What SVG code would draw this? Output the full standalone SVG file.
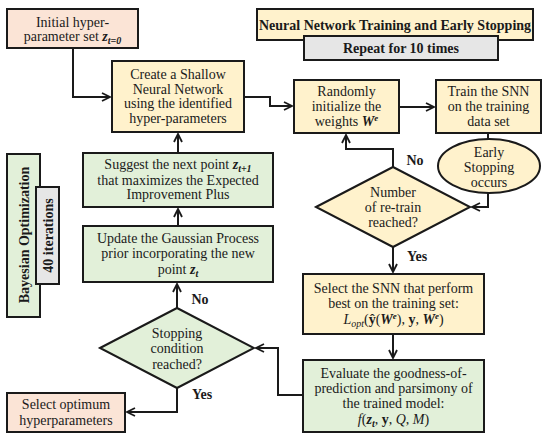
<svg xmlns="http://www.w3.org/2000/svg" width="550" height="437" viewBox="0 0 550 437">
<defs>
<style>
.t{font-family:"Liberation Serif","Times New Roman",serif;font-size:14px;fill:#1a1a1a;text-anchor:middle}
.b{font-weight:bold}
.bi{font-weight:bold;font-style:italic}
.i{font-style:italic}
.box{stroke:#1a1a1a;stroke-width:2}
.peach{fill:#FBE4D6}
.yel{fill:#FFF2CC}
.grn{fill:#E2F0D9}
.gry{fill:#E6E6E6}
.c{fill:none;stroke:#1a1a1a;stroke-width:2}
.lbl{font-family:"Liberation Serif","Times New Roman",serif;font-size:14px;font-weight:bold;fill:#1a1a1a;text-anchor:middle}
</style>
<marker id="ah" viewBox="0 0 10 10" refX="9" refY="5" markerWidth="10" markerHeight="10" markerUnits="userSpaceOnUse" orient="auto">
<path d="M1,1 L9,5 L1,9" fill="none" stroke="#1a1a1a" stroke-width="1.8"/>
</marker>
</defs>
<rect width="550" height="437" fill="#fff"/>

<g id="connectors">
<polyline class="c" points="73,48 73,97 110,97" marker-end="url(#ah)"/>
<line class="c" x1="178" y1="153" x2="178" y2="134" marker-end="url(#ah)"/>
<line class="c" x1="178" y1="226" x2="178" y2="209" marker-end="url(#ah)"/>
<line class="c" x1="177" y1="308" x2="177" y2="284" marker-end="url(#ah)"/>
<polyline class="c" points="177,388 177,412 127,412" marker-end="url(#ah)"/>
<polyline class="c" points="244,97 270,97 270,106 292,106" marker-end="url(#ah)"/>
<line class="c" x1="399" y1="107" x2="434" y2="107" marker-end="url(#ah)"/>
<line class="c" x1="488" y1="133" x2="488" y2="139"/>
<polyline class="c" points="488,193 488,207 472,207" marker-end="url(#ah)"/>
<polyline class="c" points="393,167 393,149 346,149 346,135" marker-end="url(#ah)"/>
<line class="c" x1="393" y1="247" x2="393" y2="272" marker-end="url(#ah)"/>
<line class="c" x1="393" y1="334" x2="393" y2="358" marker-end="url(#ah)"/>
<polyline class="c" points="303,395 278,395 278,348 256,348" marker-end="url(#ah)"/>
<text class="lbl" x="415" y="165">No</text>
<text class="lbl" x="417" y="261">Yes</text>
<text class="lbl" x="200" y="304">No</text>
<text class="lbl" x="202" y="399">Yes</text>
</g>

<g id="n_init">
<rect class="box peach" x="7" y="9" width="131" height="39"/>
<text class="t" x="72.5" y="27">Initial hyper-</text>
<text class="t" x="72.5" y="41">parameter set <tspan class="bi">z</tspan><tspan class="bi" font-size="10" dy="3">t=0</tspan></text>
</g>

<g id="n_create">
<rect class="box yel" x="112" y="61" width="132" height="71"/>
<text class="t" x="178" y="79">Create a Shallow</text>
<text class="t" x="178" y="94">Neural Network</text>
<text class="t" x="178" y="108">using the identified</text>
<text class="t" x="178" y="123">hyper-parameters</text>
</g>

<g id="n_suggest">
<rect class="box grn" x="83" y="153" width="190" height="54"/>
<text class="t" x="178" y="169">Suggest the next point <tspan class="bi">z</tspan><tspan class="bi" font-size="10" dy="3">t+1</tspan></text>
<text class="t" x="178" y="185">that maximizes the Expected</text>
<text class="t" x="178" y="199">Improvement Plus</text>
</g>

<g id="n_update">
<rect class="box grn" x="83" y="226" width="190" height="56"/>
<text class="t" x="178" y="243">Update the Gaussian Process</text>
<text class="t" x="178" y="258">prior incorporating the new</text>
<text class="t" x="178" y="274">point <tspan class="bi">z</tspan><tspan class="bi" font-size="10" dy="3">t</tspan></text>
</g>

<g id="n_stop">
<polygon class="box grn" points="100,348 177,308 254,348 177,388"/>
<text class="t" x="177" y="338">Stopping</text>
<text class="t" x="177" y="353">condition</text>
<text class="t" x="177" y="369">reached?</text>
</g>

<g id="n_selopt">
<rect class="box peach" x="7" y="393" width="118" height="39"/>
<text class="t" x="66" y="409">Select optimum</text>
<text class="t" x="66" y="425">hyperparameters</text>
</g>

<g id="n_bayes">
<rect class="box grn" x="7" y="154" width="33" height="163"/>
<text class="t b" transform="translate(28.5,235) rotate(-90)">Bayesian Optimization</text>
</g>

<g id="n_iter">
<rect class="box gry" x="36" y="187" width="23" height="97"/>
<text class="t b" transform="translate(52.5,235.5) rotate(-90)">40 iterations</text>
</g>

<g id="n_header">
<rect class="box yel" x="257" y="9" width="276" height="31"/>
<text class="t b" x="395" y="30">Neural Network Training and Early Stopping</text>
</g>

<g id="n_repeat">
<rect class="box gry" x="304" y="36" width="194" height="24"/>
<text class="t b" x="401" y="53">Repeat for 10 times</text>
</g>

<g id="n_random">
<rect class="box yel" x="294" y="80" width="105" height="53"/>
<text class="t" x="346.5" y="96">Randomly</text>
<text class="t" x="346.5" y="111">initialize the</text>
<text class="t" x="346.5" y="126">weights <tspan class="bi">W</tspan><tspan class="bi" font-size="9" dy="-5">e</tspan></text>
</g>

<g id="n_train">
<rect class="box yel" x="436" y="80" width="105" height="53"/>
<text class="t" x="488.5" y="96">Train the SNN</text>
<text class="t" x="488.5" y="111">on the training</text>
<text class="t" x="488.5" y="126">data set</text>
</g>

<g id="n_early">
<ellipse class="box yel" cx="489" cy="166" rx="51" ry="27"/>
<text class="t" x="489" y="157">Early</text>
<text class="t" x="489" y="172">Stopping</text>
<text class="t" x="489" y="187">occurs</text>
</g>

<g id="n_num">
<polygon class="box yel" points="316,207 393,167 470,207 393,247"/>
<text class="t" x="393" y="197">Number</text>
<text class="t" x="393" y="212">of re-train</text>
<text class="t" x="393" y="227">reached?</text>
</g>

<g id="n_selsnn">
<rect class="box yel" x="303" y="274" width="181" height="60"/>
<text class="t" x="393.5" y="293">Select the SNN that perform</text>
<text class="t" x="393.5" y="308">best on the training set:</text>
<text class="t" x="393.5" y="324"><tspan class="i">L</tspan><tspan class="i" font-size="10" dy="3">opt</tspan><tspan dy="-3">(</tspan><tspan class="b">ŷ</tspan>(<tspan class="bi">W</tspan><tspan class="bi" font-size="9" dy="-5">e</tspan><tspan dy="5">), </tspan><tspan class="b">y</tspan>, <tspan class="bi">W</tspan><tspan class="bi" font-size="9" dy="-5">e</tspan><tspan dy="5">)</tspan></text>
</g>

<g id="n_eval">
<rect class="box grn" x="303" y="360" width="181" height="72"/>
<text class="t" x="393.5" y="378">Evaluate the goodness-of-</text>
<text class="t" x="393.5" y="393">prediction and parsimony of</text>
<text class="t" x="393.5" y="408">the trained model:</text>
<text class="t" x="393.5" y="424"><tspan class="i">f</tspan>(<tspan class="bi">z</tspan><tspan class="bi" font-size="10" dy="3">t</tspan><tspan dy="-3">, </tspan><tspan class="b">y</tspan>, <tspan class="i">Q</tspan>, <tspan class="i">M</tspan>)</text>
</g>
</svg>
